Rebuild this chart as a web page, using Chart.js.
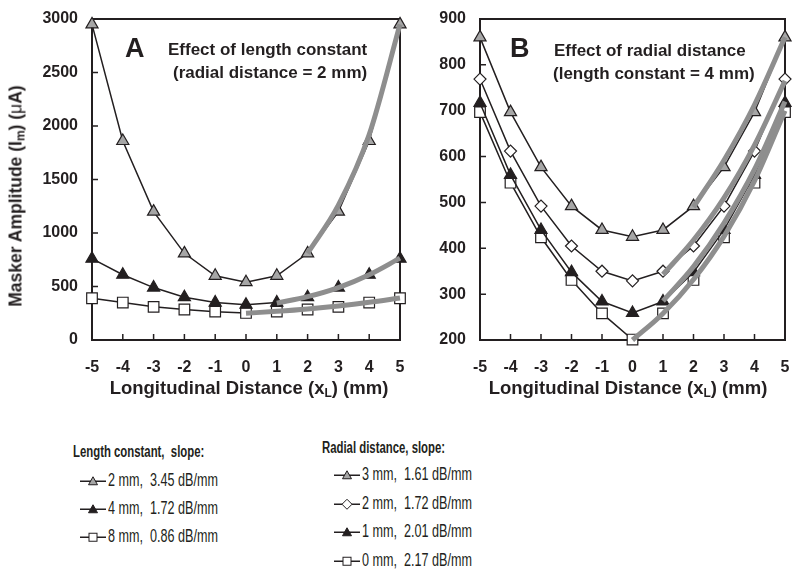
<!DOCTYPE html>
<html>
<head>
<meta charset="utf-8">
<script src="https://cdn.jsdelivr.net/npm/chart.js@4.4.0/dist/chart.umd.min.js"></script>
<style>
  body { margin: 0; background: #fff; }
  #wrap { position: relative; width: 800px; height: 581px; font-family: 'Liberation Sans', Arial, sans-serif; color: #231f20; overflow: hidden; }
  canvas { position: absolute; top: 0; }
  .lbl { position: absolute; font-weight: bold; white-space: pre; line-height: 1; }
  .ytitle { font-size: 17.5px; transform: translate(-50%, -50%) rotate(-90deg); }
  .xtitle { font-size: 18.5px; transform: translate(-50%, -50%); }
  .panel { font-size: 27px; transform: translateY(-50%); }
  .note { font-size: 17px; transform: translateY(-50%); }
  sub { font-size: 12px; vertical-align: -3px; }
  .mu { font-weight: normal; }
  .leg { position: absolute; white-space: pre; line-height: 1; }
  .legtitle { font-weight: bold; font-size: 16px; transform: translateY(-50%) scaleX(0.71); transform-origin: left center; }
  .legitem { font-size: 17.5px; transform: translateY(-50%); display: flex; align-items: center; }
  .legitem svg { margin-right: 2px; flex: none; }
  .legitem span { display: inline-block; transform: scaleX(0.72); transform-origin: left center; }
</style>
</head>
<body>
<div id="wrap">
  <canvas id="chartA" width="410" height="400" style="left:0px"></canvas>
  <canvas id="chartB" width="400" height="400" style="left:400px"></canvas>

  <div class="lbl ytitle" style="left:17px; top:196px">Masker Amplitude (I<sub>m</sub>) (<span class="mu">μ</span>A)</div>
  <div class="lbl xtitle" style="left:249px; top:389px">Longitudinal Distance (x<sub>L</sub>) (mm)</div>
  <div class="lbl xtitle" style="left:628px; top:389px">Longitudinal Distance (x<sub>L</sub>) (mm)</div>

  <div class="lbl panel" style="left:125px; top:48px">A</div>
  <div class="lbl note" style="left:168px; top:49px">Effect of length constant</div>
  <div class="lbl note" style="left:173px; top:72px">(radial distance = 2 mm)</div>
  <div class="lbl panel" style="left:510px; top:48px">B</div>
  <div class="lbl note" style="left:554px; top:50px">Effect of radial distance</div>
  <div class="lbl note" style="left:553px; top:73px">(length constant = 4 mm)</div>

  <div class="leg legtitle" style="left:73px; top:452px">Length constant,  slope:</div>
  <div class="leg legitem" style="left:80px; top:481px"><svg width="26" height="12"><line x1="0" y1="6" x2="26" y2="6" stroke="#231f20" stroke-width="1.5"/><polygon points="13,1.5 17.5,9.5 8.5,9.5" fill="#a6a6a6" stroke="#231f20" stroke-width="1"/></svg><span>2 mm,  3.45 dB/mm</span></div>
  <div class="leg legitem" style="left:80px; top:509px"><svg width="26" height="12"><line x1="0" y1="6" x2="26" y2="6" stroke="#231f20" stroke-width="1.5"/><polygon points="13,1.5 17.5,9.5 8.5,9.5" fill="#231f20" stroke="#231f20" stroke-width="1"/></svg><span>4 mm,  1.72 dB/mm</span></div>
  <div class="leg legitem" style="left:80px; top:537px"><svg width="26" height="12"><line x1="0" y1="6" x2="26" y2="6" stroke="#231f20" stroke-width="1.5"/><rect x="9" y="2" width="8" height="8" fill="#fff" stroke="#231f20" stroke-width="1"/></svg><span>8 mm,  0.86 dB/mm</span></div>

  <div class="leg legtitle" style="left:322px; top:448px">Radial distance, slope:</div>
  <div class="leg legitem" style="left:334px; top:475px"><svg width="26" height="12"><line x1="0" y1="6" x2="26" y2="6" stroke="#231f20" stroke-width="1.5"/><polygon points="13,1.5 17.5,9.5 8.5,9.5" fill="#a6a6a6" stroke="#231f20" stroke-width="1"/></svg><span>3 mm,  1.61 dB/mm</span></div>
  <div class="leg legitem" style="left:334px; top:504px"><svg width="26" height="12"><line x1="0" y1="6" x2="26" y2="6" stroke="#231f20" stroke-width="1.5"/><polygon points="13,1 18,6 13,11 8,6" fill="#fff" stroke="#231f20" stroke-width="1"/></svg><span>2 mm,  1.72 dB/mm</span></div>
  <div class="leg legitem" style="left:334px; top:532px"><svg width="26" height="12"><line x1="0" y1="6" x2="26" y2="6" stroke="#231f20" stroke-width="1.5"/><polygon points="13,1.5 17.5,9.5 8.5,9.5" fill="#231f20" stroke="#231f20" stroke-width="1"/></svg><span>1 mm,  2.01 dB/mm</span></div>
  <div class="leg legitem" style="left:334px; top:561px"><svg width="26" height="12"><line x1="0" y1="6" x2="26" y2="6" stroke="#231f20" stroke-width="1.5"/><rect x="9" y="2" width="8" height="8" fill="#fff" stroke="#231f20" stroke-width="1"/></svg><span>0 mm,  2.17 dB/mm</span></div>
</div>

<script>
// longitudinal distance (mm)
const xDist = [-5, -4, -3, -2, -1, 0, 1, 2, 3, 4, 5];

// panel A: length constant (radial distance = 2 mm)
const a2mm = [2950, 1860, 1200, 810, 600, 540, 600, 810, 1200, 1860, 2950];
const a4mm = [760, 610, 490, 400, 350, 330, 350, 400, 490, 610, 760];
const a8mm = [390, 350, 310, 285, 265, 253, 265, 285, 310, 350, 390];
// fitted slopes (grey curves)
const a2mmFitX = [2, 3, 4, 5];
const a2mmFit = [810, 1260, 1920, 2950];
const a4mmFitX = [1, 2, 3, 4, 5];
const a4mmFit = [345, 405, 490, 610, 765];
const a8mmFitX = [0, 1, 2, 3, 4, 5];
const a8mmFit = [250, 268, 290, 318, 352, 392];

// panel B: radial distance (length constant = 4 mm)
const b3mm = [860, 697, 577, 492, 440, 425, 440, 492, 577, 697, 860];
const b2mm = [769, 612, 492, 405, 350, 329, 350, 405, 492, 612, 769];
const b1mm = [717, 560, 440, 348, 284, 259, 284, 348, 440, 560, 717];
const b0mm = [697, 543, 424, 331, 258, 201, 258, 331, 424, 543, 697];
const b3mmFitX = [2, 3, 4, 5];
const b3mmFit = [490, 592, 713, 860];
const b2mmFitX = [1, 2, 3, 4, 5];
const b2mmFit = [343, 418, 510, 625, 765];
const b1mmFitX = [1, 2, 3, 4, 5];
const b1mmFit = [285, 360, 455, 572, 720];
const b0mmFitX = [0, 1, 2, 3, 4, 5];
const b0mmFit = [200, 258, 332, 426, 547, 700];

const ink = '#231f20';
const grey = '#8e8e8e';
const tickFont = { family: "'Liberation Sans', Arial, sans-serif", size: 16, weight: 'bold' };

function pts(xs, ys) {
  return xs.map((x, i) => ({ x: x, y: ys[i] }));
}

function dataSet(ys, style, fill, r) {
  return {
    data: pts(xDist, ys),
    borderColor: ink,
    borderWidth: 1.5,
    pointStyle: style,
    pointRadius: r,
    pointBackgroundColor: fill,
    pointBorderColor: ink,
    pointBorderWidth: 1.2,
    clip: false,
    order: 1
  };
}

function fitSet(xs, ys) {
  return {
    data: pts(xs, ys),
    borderColor: grey,
    borderWidth: 5,
    pointRadius: 0,
    cubicInterpolationMode: 'monotone',
    clip: false,
    order: 0
  };
}

// frame box + inward ticks
const framePlugin = {
  id: 'frame',
  beforeDatasetsDraw(chart) {
    const { ctx, chartArea: a, scales } = chart;
    ctx.save();
    ctx.strokeStyle = ink;
    ctx.lineWidth = 2;
    ctx.strokeRect(a.left, a.top, a.right - a.left, a.bottom - a.top);
    ctx.lineWidth = 1.5;
    ctx.beginPath();
    scales.x.ticks.forEach(t => {
      const px = scales.x.getPixelForValue(t.value);
      ctx.moveTo(px, a.bottom);
      ctx.lineTo(px, a.bottom - 6);
    });
    scales.y.ticks.forEach(t => {
      const py = scales.y.getPixelForValue(t.value);
      ctx.moveTo(a.left, py);
      ctx.lineTo(a.left + 6, py);
    });
    ctx.stroke();
    ctx.restore();
  }
};

function makeChart(id, datasets, yMin, yMax, yStep, yWidth, padRight) {
  return new Chart(document.getElementById(id), {
    type: 'line',
    data: { datasets: datasets },
    options: {
      responsive: false,
      animation: false,
      layout: { padding: { left: 0, top: 19, right: padRight, bottom: 0 } },
      plugins: { legend: { display: false }, tooltip: { enabled: false } },
      scales: {
        x: {
          type: 'linear', min: -5, max: 5,
          grid: { display: false, drawTicks: false },
          border: { display: false },
          ticks: { stepSize: 1, color: ink, font: tickFont, padding: 18, callback: v => String(v) },
          afterFit: s => { s.height = 60; s.paddingLeft = 0; s.paddingRight = 0; }
        },
        y: {
          min: yMin, max: yMax,
          grid: { display: false, drawTicks: false },
          border: { display: false },
          ticks: { stepSize: yStep, color: ink, font: tickFont, padding: 14, callback: v => String(v) },
          afterFit: s => { s.width = yWidth; s.paddingTop = 0; s.paddingBottom = 0; }
        }
      }
    },
    plugins: [framePlugin]
  });
}

makeChart('chartA', [
  fitSet(a2mmFitX, a2mmFit),
  fitSet(a4mmFitX, a4mmFit),
  fitSet(a8mmFitX, a8mmFit),
  dataSet(a2mm, 'triangle', '#a6a6a6', 7),
  dataSet(a4mm, 'triangle', ink, 7),
  dataSet(a8mm, 'rect', '#fff', 7.5)
], 0, 3000, 500, 92, 10);

makeChart('chartB', [
  fitSet(b3mmFitX, b3mmFit),
  fitSet(b2mmFitX, b2mmFit),
  fitSet(b1mmFitX, b1mmFit),
  fitSet(b0mmFitX, b0mmFit),
  dataSet(b3mm, 'triangle', '#a6a6a6', 7),
  dataSet(b2mm, 'rectRot', '#fff', 6),
  dataSet(b1mm, 'triangle', ink, 7),
  dataSet(b0mm, 'rect', '#fff', 7.5)
], 200, 900, 100, 80, 15);
</script>
</body>
</html>
